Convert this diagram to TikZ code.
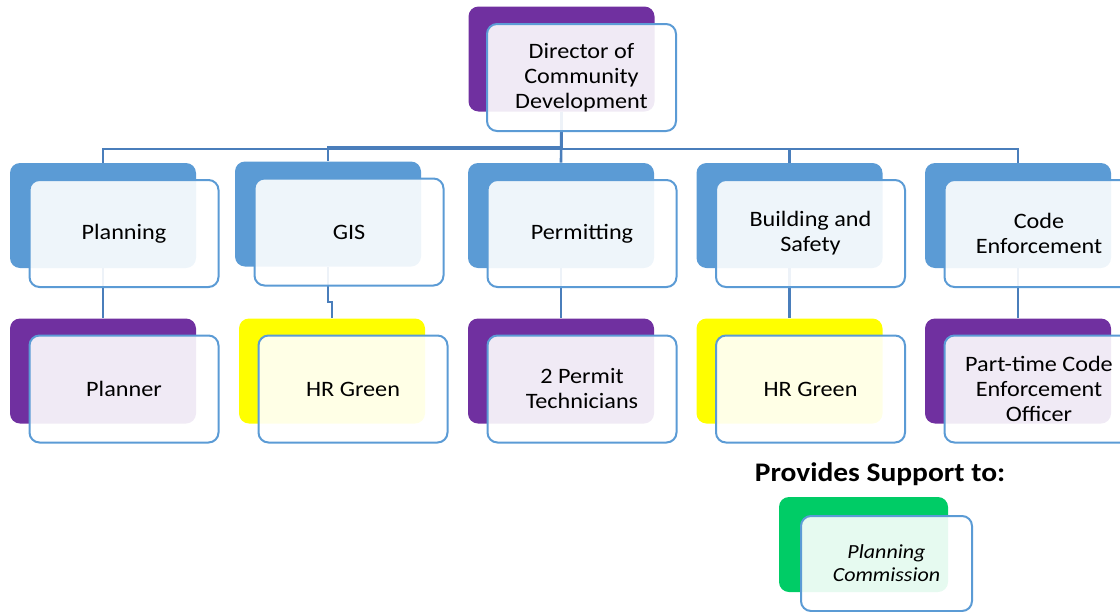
\documentclass[tikz,border=0pt]{standalone}
\usepackage{fontspec}
\setmainfont{Carlito}[FakeStretch=1.1]

\definecolor{deptblue}{HTML}{5B9BD5}
\definecolor{staffpurple}{HTML}{7030A0}
\definecolor{firmyellow}{HTML}{FFFF00}
\definecolor{boardgreen}{HTML}{00CC66}
\definecolor{linkblue}{HTML}{4A7EBB}

\tikzset{
  back/.style={rounded corners=5pt, minimum width=93pt, minimum height=52.5pt, inner sep=0pt},
  front/.style={draw=deptblue, line width=1pt, fill=white, fill opacity=.9, text opacity=1,
    rounded corners=5pt, minimum width=94.5pt, minimum height=53.5pt, inner sep=0pt, align=center},
  link/.style={draw=linkblue, line width=1.3pt}
}

\begin{document}
\begin{tikzpicture}[x=0.5pt, y=-0.5pt, every node/.style={font=\fontsize{11}{12.5}\selectfont}]
  \useasboundingbox (0,0) rectangle (1120,611);

  % coloured back plates
  \node[back, fill=staffpurple] (dirB) at (561.5,59)  {};
  \node[back, fill=deptblue]    (plnB) at (103,215.5) {};
  \node[back, fill=deptblue]    (gisB) at (328,214)   {};
  \node[back, fill=deptblue]    (prmB) at (561,215.5) {};
  \node[back, fill=deptblue]    (bldB) at (789.5,215.5) {};
  \node[back, fill=deptblue]    (codB) at (1018,215.5) {};
  \node[back, fill=staffpurple] (plrB) at (103,371)   {};
  \node[back, fill=firmyellow]  (hrgB) at (332,371)   {};
  \node[back, fill=staffpurple] (pteB) at (561,371)   {};
  \node[back, fill=firmyellow]  (hrbB) at (789.5,371) {};
  \node[back, fill=staffpurple] (ptcB) at (1018,371)  {};
  \node[back, fill=boardgreen, minimum width=84.5pt, minimum height=47.5pt] (pcB) at (863.5,544.5) {};

  % connectors
  \draw[link] (dirB.south) -- ++(0,37) -| (plnB.north);
  \draw[link] (dirB.south) -- ++(0,35) -| (gisB.north);
  \draw[link] (dirB.south) -- (prmB.north);
  \draw[link] (dirB.south) -- ++(0,37) -| (bldB.north);
  \draw[link] (dirB.south) -- ++(0,37) -| (codB.north);
  \draw[link] (plnB.south) -- (plrB.north);
  \draw[link] (gisB.south) -- ++(0,35) -| (hrgB.north);
  \draw[link] (prmB.south) -- (pteB.north);
  \draw[link] (bldB.south) -- (hrbB.north);
  \draw[link] (codB.south) -- (ptcB.north);

  % white front cards
  \node[front] (dir) at ([shift={(20,18.5)}]dirB) {Director of\\Community\\Development};
  \node[front] (pln) at ([shift={(21,18)}]plnB) {Planning};
  \node[front] (gis) at ([shift={(21,18)}]gisB) {GIS};
  \node[front] (prm) at ([shift={(21,18)}]prmB) {Permitting};
  \node[front] (bld) at ([shift={(21,18)}]bldB) {Building and\\Safety};
  \node[front] (cod) at ([shift={(21,18)}]codB) {Code\\Enforcement};
  \node[front] (plr) at ([shift={(21,18)}]plrB) {Planner};
  \node[front] (hrg) at ([shift={(21,18)}]hrgB) {HR Green};
  \node[front] (pte) at ([shift={(21,18)}]pteB) {2 Permit\\Technicians};
  \node[front] (hrb) at ([shift={(21,18)}]hrbB) {HR Green};
  \node[front] (ptc) at ([shift={(21,18)}]ptcB) {Part-time Code\\Enforcement\\Officer};

  \node[font=\bfseries\fontsize{13.4}{15}\selectfont] (sup) at (880,474) {Provides Support to:};
  \node[front, minimum width=85.5pt, minimum height=47.5pt, font=\itshape\fontsize{10}{11.5}\selectfont]
    (pc) at ([shift={(23,19)}]pcB) {Planning\\Commission};
\end{tikzpicture}
\end{document}
